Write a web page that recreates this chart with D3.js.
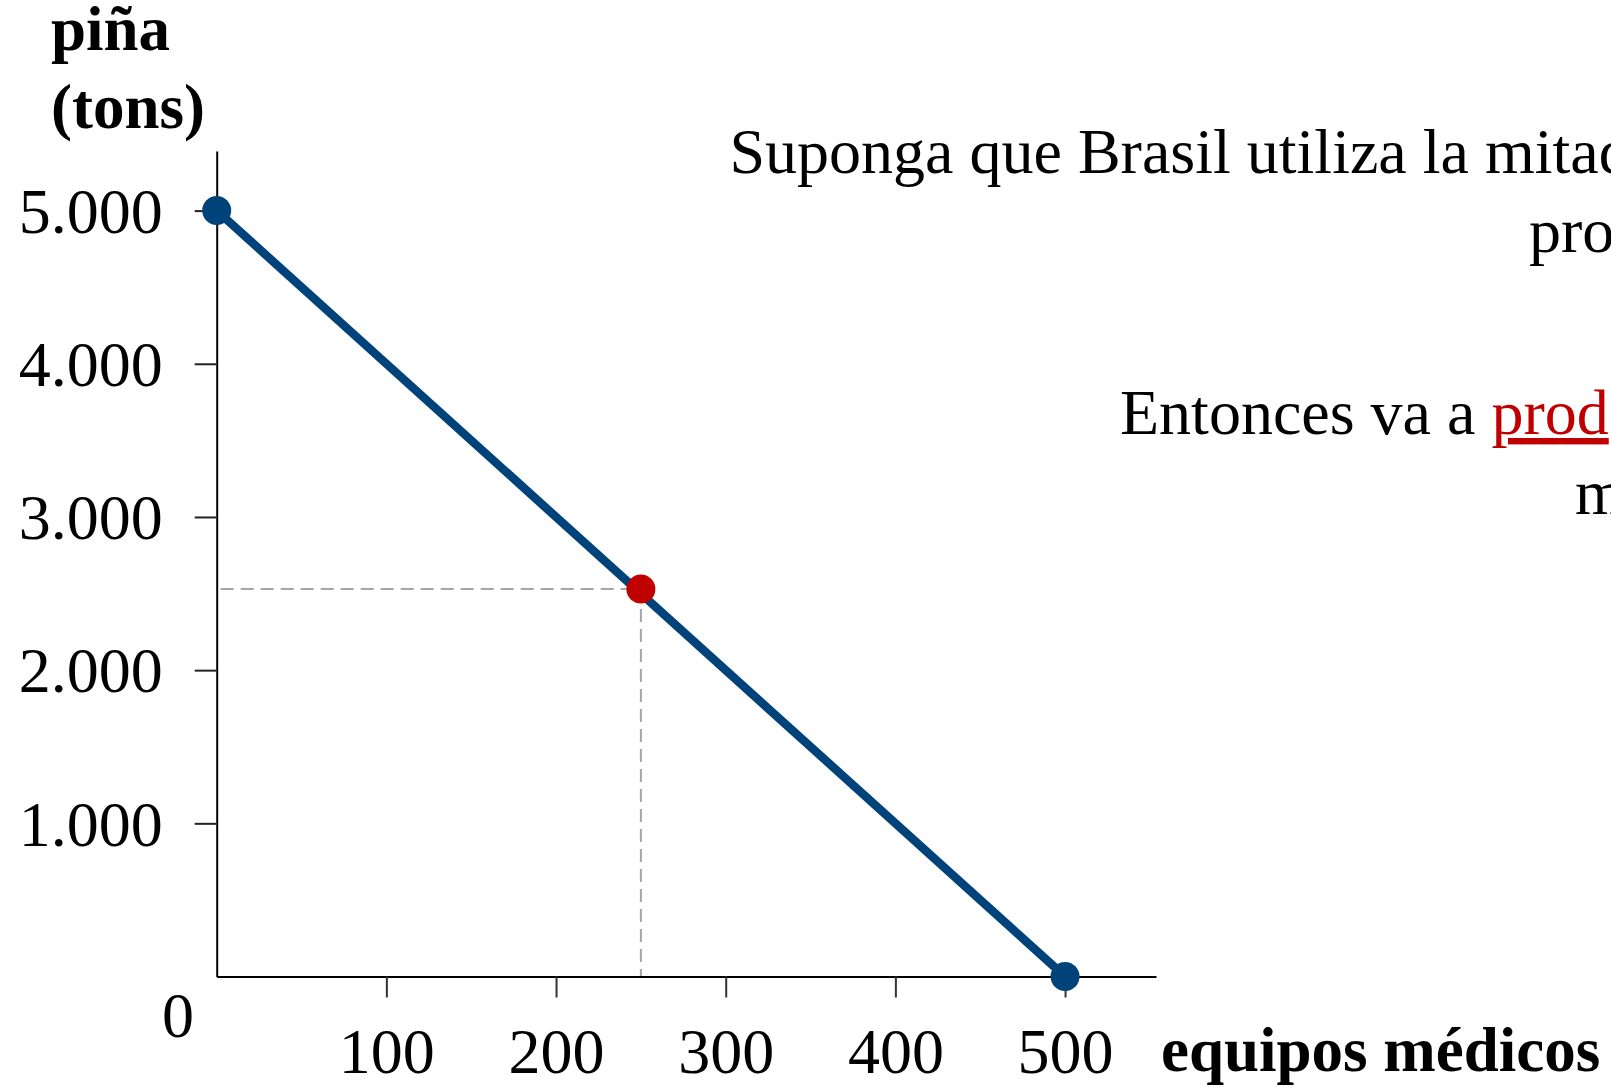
<!DOCTYPE html>
<html>
<head>
<meta charset="utf-8">
<script src="https://cdn.jsdelivr.net/npm/d3@7"></script>
<style>
  html, body { margin: 0; padding: 0; background: #ffffff; overflow: hidden; }
  svg { display: block; font-family: "Liberation Serif", "Times New Roman", serif; }
</style>
</head>
<body>
<svg id="chart" width="1611" height="1087"></svg>
<script>
// ---- data ----
const xTicks = [100, 200, 300, 400, 500];
const yTicks = [1000, 2000, 3000, 4000, 5000];
const ppfX = [0, 500];        // equipos médicos
const ppfY = [5000, 0];       // piña (tons)
const pointX = [250];         // selected point
const pointY = [2530];
const yTitleLines = ["piña", "(tons)"];
const xTitle = "equipos médicos";
const noteLine1 = "Suponga que Brasil utiliza la mitad";
const noteLine2 = "pro";
const noteLine3a = "Entonces va a ";
const noteLine3b = "prod";
const noteLine4 = "m";

// ---- layout ----
const W = 1611, H = 1087;
const svg = d3.select("#chart");
svg.append("rect").attr("width", W).attr("height", H).attr("fill", "#ffffff");

const x = d3.scaleLinear().domain([0, 553.6]).range([216.7, 1156]);
const y = d3.scaleLinear().domain([0, 5000]).range([976.5, 210.6]);
const yTop = 151;

const loc = d3.formatLocale({ decimal: ",", thousands: ".", grouping: [3], currency: ["", ""] });
const fmt = loc.format(",d");

// dashed guides
const px = x(pointX[0]), py = y(pointY[0]);
svg.append("line")
  .attr("x1", x(0) + 4).attr("x2", px).attr("y1", py).attr("y2", py)
  .attr("stroke", "#a6a6a6").attr("stroke-width", 2).attr("stroke-dasharray", "13,7");
svg.append("line")
  .attr("x1", px).attr("x2", px).attr("y1", py).attr("y2", y(0))
  .attr("stroke", "#a6a6a6").attr("stroke-width", 2).attr("stroke-dasharray", "13,7");

// y axis
const yAxisScale = y.copy().domain([0, y.invert(yTop)]).range([976.5, yTop]);
const gy = svg.append("g").attr("transform", `translate(${x(0)},0)`)
  .call(d3.axisLeft(yAxisScale).tickValues(yTicks).tickSize(22).tickSizeOuter(0).tickPadding(32).tickFormat(fmt));
gy.select(".domain").attr("stroke", "#000").attr("stroke-width", 2);
gy.selectAll(".tick line").attr("stroke", "#222").attr("stroke-width", 2);
gy.selectAll(".tick text")
  .attr("font-family", "'Liberation Serif', 'Times New Roman', serif")
  .attr("font-size", 64).attr("fill", "#000").attr("dy", "0.34em");

// x axis
const gx = svg.append("g").attr("transform", `translate(0,${y(0)})`)
  .call(d3.axisBottom(x).tickValues(xTicks).tickSize(21).tickSizeOuter(0).tickFormat(d3.format("d")));
gx.select(".domain").attr("stroke", "#000").attr("stroke-width", 2);
gx.selectAll(".tick line").attr("stroke", "#333").attr("stroke-width", 2);
gx.selectAll(".tick text")
  .attr("font-family", "'Liberation Serif', 'Times New Roman', serif")
  .attr("font-size", 64).attr("fill", "#000")
  .attr("dy", null).attr("y", 1073 - y(0));

// origin label
svg.append("text").attr("x", 178).attr("y", 1037).attr("text-anchor", "middle")
  .attr("font-size", 64).attr("fill", "#000").text(fmt(0));

// PPF line
const pts = ppfX.map((d, i) => [d, ppfY[i]]);
svg.append("path")
  .attr("d", d3.line().x(d => x(d[0])).y(d => y(d[1]))(pts))
  .attr("fill", "none").attr("stroke", "#00427a").attr("stroke-width", 8.5);
svg.selectAll("circle.end").data(pts).enter().append("circle").attr("class", "end")
  .attr("cx", d => x(d[0])).attr("cy", d => y(d[1])).attr("r", 14.5).attr("fill", "#00427a");

// selected point
svg.selectAll("circle.sel").data(pointX.map((d, i) => [d, pointY[i]])).enter()
  .append("circle").attr("class", "sel")
  .attr("cx", d => x(d[0])).attr("cy", d => y(d[1])).attr("r", 14.5).attr("fill", "#c00000");

// axis titles
const yt = svg.append("text").attr("font-size", 63).attr("font-weight", "bold").attr("fill", "#000");
yt.append("tspan").attr("x", 51).attr("y", 50).text(yTitleLines[0]);
yt.append("tspan").attr("x", 51).attr("y", 128).text(yTitleLines[1]);
svg.append("text").attr("x", 1161).attr("y", 1071).attr("font-size", 63).attr("font-weight", "bold")
  .attr("fill", "#000").text(xTitle);

// note text
svg.append("text").attr("x", 729.5).attr("y", 172.6).attr("font-size", 64).attr("fill", "#000").text(noteLine1);
svg.append("text").attr("x", 1529).attr("y", 251.7).attr("font-size", 64).attr("fill", "#000").text(noteLine2);
const t3 = svg.append("text").attr("x", 1120).attr("y", 434).attr("font-size", 64).attr("fill", "#000");
t3.append("tspan").text(noteLine3a);
t3.append("tspan").attr("fill", "#c00000").style("text-decoration", "underline").text(noteLine3b);
svg.append("text").attr("x", 1575).attr("y", 514).attr("font-size", 64).attr("fill", "#000").text(noteLine4);
</script>
</body>
</html>
